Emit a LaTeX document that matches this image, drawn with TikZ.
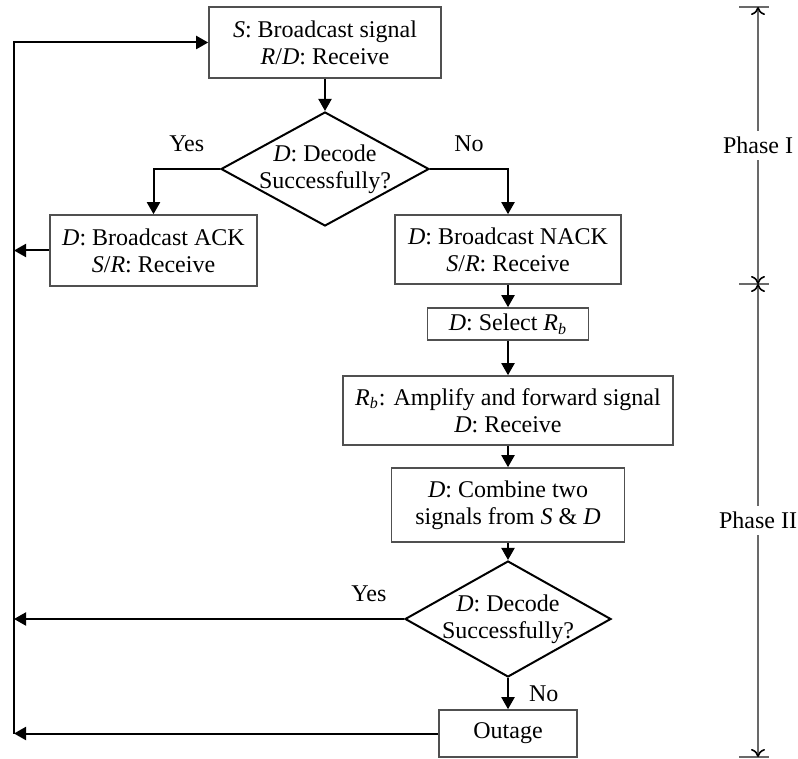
\documentclass[tikz,border=0pt]{standalone}
\usepackage{fontspec}
\setmainfont{Liberation Serif}
\usetikzlibrary{shapes.geometric,arrows.meta}
\usepackage{xcolor}
\definecolor{Frame}{RGB}{80,80,80}
\definecolor{Ruler}{RGB}{105,105,105}

\begin{document}
\begin{tikzpicture}[x=0.5pt,y=-0.5pt,line width=1pt,
  >={Triangle[length=6pt,width=6.5pt]},
  every node/.style={font=\fontsize{12}{13.5}\selectfont},
  proc/.style={draw=Frame,line width=0.8pt,align=center,inner sep=0pt},
  dec/.style={draw,diamond,inner sep=0pt,minimum width=104pt,minimum height=57pt},
  tag/.style={inner sep=1pt}]
\useasboundingbox (0,0) rectangle (798,759);

\node[proc,minimum width=116pt,minimum height=35.5pt] (bc) at (325,42.5) {\textit{S}: Broadcast signal\\\textit{R}/\textit{D}: Receive};
\node[dec] (dec1) at (325,169) {};
\node[align=center] at (dec1) {\textit{D}: Decode\\Successfully?};
\node[proc,minimum width=103.5pt,minimum height=35.5pt] (ack) at (153.5,250.5) {\textit{D}: Broadcast ACK\\\textit{S}/\textit{R}: Receive};
\node[proc,minimum width=113pt,minimum height=34.5pt] (nack) at (508,249.5) {\textit{D}: Broadcast NACK\\\textit{S}/\textit{R}: Receive};
\node[proc,minimum width=80.5pt,minimum height=16pt] (sel) at (508,324) {\textit{D}: Select \textit{R}\textsubscript{\textit{b}}};
\node[proc,minimum width=165pt,minimum height=34.5pt] (amp) at (508,410.5) {\textit{R}\textsubscript{\textit{b}}: Amplify and forward signal\\\textit{D}: Receive};
\node[proc,minimum width=116.5pt,minimum height=37pt] (comb) at (508,505) {\textit{D}: Combine two\\signals from \textit{S} \& \textit{D}};
\node[dec,minimum width=103pt,minimum height=58pt] (dec2) at (508,619) {};
\node[align=center] at (dec2) {\textit{D}: Decode\\Successfully?};
\node[proc,minimum width=69pt,minimum height=23.5pt] (out) at (508,733.5) {Outage};

\coordinate (back) at (14,733.5);

\draw[->] (bc) -- (dec1);
\draw[->] (dec1.west) -| (ack.north) node[tag,pos=0.25,above=7pt] {Yes};
\draw[->] (dec1.east) -| (nack.north) node[tag,pos=0.25,above=7pt] {No};
\draw[->] (nack) -- (sel);
\draw[->] (sel) -- (amp);
\draw[->] (amp) -- (comb);
\draw[->] (comb) -- (dec2);
\draw[->] (dec2) -- (out) node[tag,midway,right=9pt] {No};

\draw[->] (back) |- (bc.west);
\draw[->] (ack.west) -- (ack.west -| back);
\draw[->] (dec2.west) -- (dec2.west -| back) node[tag,pos=0.09,above=7pt] {Yes};
\draw[->] (out.west) -- (back);

\coordinate (ph0) at (758,7);
\coordinate (ph1) at (758,284);
\coordinate (ph2) at (758,757);
\draw[Ruler,line width=0.8pt] (739,7) -- (769,7) (739,284) -- (769,284) (739,757) -- (769,757);
\draw[Ruler,line width=0.8pt,{To[length=4pt,width=7pt,color=black]}-{To[length=4pt,width=7pt,color=black]}] (ph0) -- (ph1) node[midway,fill=white,inner sep=3pt,text=black] {Phase I};
\draw[Ruler,line width=0.8pt,{To[length=4pt,width=7pt,color=black]}-{To[length=4pt,width=7pt,color=black]}] (ph1) -- (ph2) node[midway,fill=white,inner sep=3pt,text=black] {Phase II};
\end{tikzpicture}
\end{document}
